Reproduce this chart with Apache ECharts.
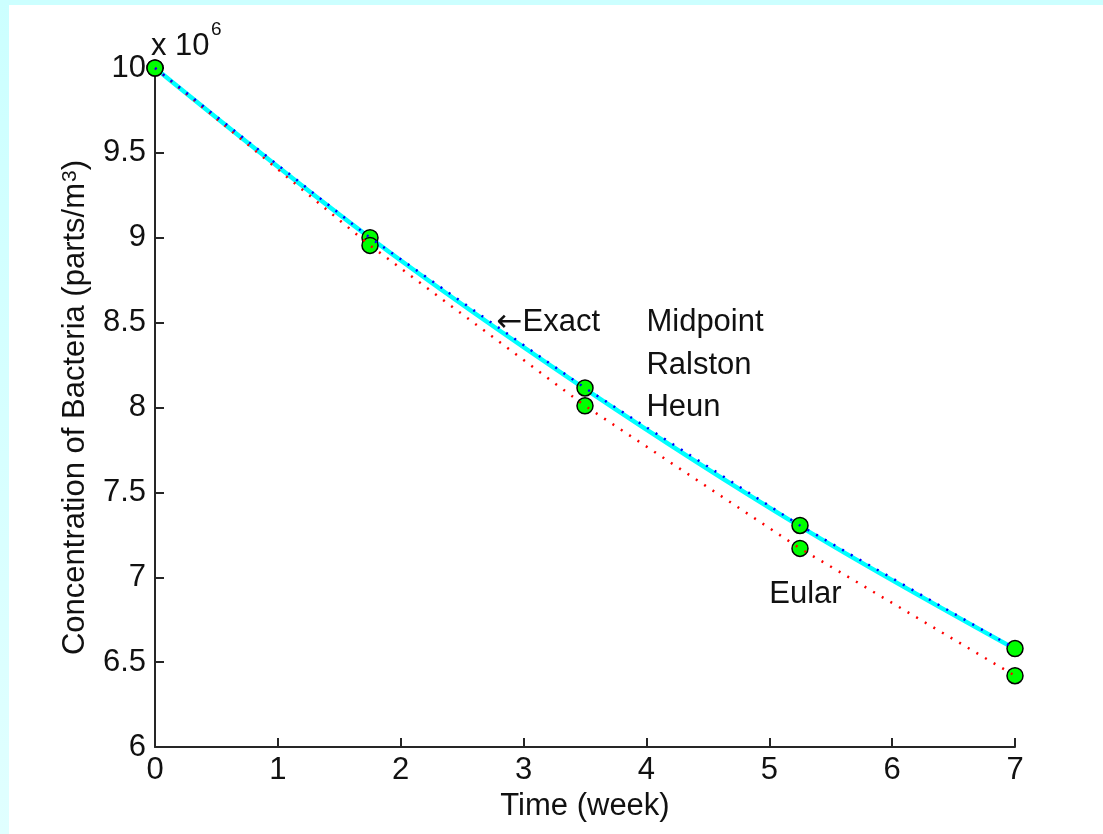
<!DOCTYPE html>
<html>
<head>
<meta charset="utf-8">
<script src="https://cdn.jsdelivr.net/npm/echarts@6/dist/echarts.min.js"></script>
<style>
  html, body { margin: 0; padding: 0; background: #ffffff; }
  #chart { width: 1103px; height: 834px; }
</style>
</head>
<body>
<div id="chart"></div>
<script>
// Time (week)
const timeWeeks = [0, 1.75, 3.5, 5.25, 7];
// Concentration (x 10^6 parts/m^3)
const exactValues = [10, 9.0, 8.11, 7.30, 6.578];
const rk2Values = [10, 9.0, 8.115, 7.305, 6.58];   // Midpoint / Ralston / Heun
const eulerValues = [10, 8.955, 8.01, 7.17, 6.42];
// Axis ticks
const xTicks = [0, 1, 2, 3, 4, 5, 6, 7];
const yTickLabels = ['6', '6.5', '7', '7.5', '8', '8.5', '9', '9.5', '10'];
// Annotations (text, x, y)
const annotTexts = ['{arr|\u2190}Exact', 'Midpoint', 'Ralston', 'Heun', 'Eular'];
const annotX = [2.78, 4.0, 4.0, 4.0, 5.0];
const annotY = [8.5, 8.5, 8.25, 8.0, 6.9];

const FONT = 'Liberation Sans, Arial, sans-serif';
const TXT = '#111111';
const FS = 31;

const pairs = (xs, ys) => xs.map((x, i) => [x, ys[i]]);

const chart = echarts.init(document.getElementById('chart'), null, { renderer: 'canvas' });
chart.setOption({
  animation: false,
  backgroundColor: '#ffffff',
  grid: { left: 155, right: 88, top: 68, bottom: 87, containLabel: false },
  xAxis: {
    type: 'value', min: 0, max: 7, interval: 1,
    name: 'Time (week)', nameLocation: 'middle', nameGap: 41,
    nameTextStyle: { fontFamily: FONT, fontSize: FS, color: TXT },
    axisLine: { show: true, onZero: false, lineStyle: { color: '#262626', width: 2 } },
    axisTick: { show: true, inside: true, length: 9, lineStyle: { color: '#262626', width: 2 } },
    axisLabel: { fontFamily: FONT, fontSize: FS, color: TXT, margin: 8,
      formatter: v => (xTicks.indexOf(v) >= 0 ? String(v) : '') },
    splitLine: { show: false }
  },
  yAxis: {
    type: 'value', min: 6, max: 10, interval: 0.5,
    name: 'Concentration of Bacteria (parts/m{s|3})', nameLocation: 'middle', nameGap: 64,
    nameRotate: 90,
    nameTextStyle: { fontFamily: FONT, fontSize: FS, color: TXT,
      rich: { s: { fontFamily: FONT, fontSize: 21, color: TXT, verticalAlign: 'top', lineHeight: 18, padding: [0, 0, 0, 1] } } },
    axisLine: { show: true, onZero: false, lineStyle: { color: '#262626', width: 2 } },
    axisTick: { show: true, inside: true, length: 9, lineStyle: { color: '#262626', width: 2 } },
    axisLabel: { fontFamily: FONT, fontSize: FS, color: TXT, margin: 9,
      formatter: v => { const i = Math.round((v - 6) / 0.5); return yTickLabels[i] !== undefined ? yTickLabels[i] : ''; } },
    splitLine: { show: false }
  },
  graphic: [
    { type: 'rect', left: 0, top: 0, shape: { width: 1103, height: 5 }, style: { fill: '#ccffff' }, silent: true, z: 100 },
    { type: 'rect', left: 0, top: 0, shape: { width: 9, height: 834 },
      style: { fill: new echarts.graphic.LinearGradient(0, 0, 0, 1, [{ offset: 0, color: '#ccffff' }, { offset: 1, color: '#e0ffff' }]) }, silent: true, z: 100 },
    { type: 'text', left: 151, top: 31, style: { text: 'x 10', font: FS + 'px ' + FONT, fill: TXT }, z: 100 },
    { type: 'text', left: 211, top: 20, style: { text: '6', font: '19px ' + FONT, fill: TXT }, z: 100 }
  ],
  series: [
    { name: 'Exact', type: 'line', data: pairs(timeWeeks, exactValues), smooth: 0.35,
      showSymbol: false, lineStyle: { color: '#00ffff', width: 4.5 }, z: 1 },
    { name: 'Heun pts', type: 'scatter', data: pairs(timeWeeks, rk2Values), symbol: 'circle', symbolSize: 16,
      itemStyle: { color: '#00ff00', borderColor: '#000', borderWidth: 1.5, opacity: 1 }, z: 2 },
    { name: 'Euler pts', type: 'scatter', data: pairs(timeWeeks, eulerValues), symbol: 'circle', symbolSize: 16,
      itemStyle: { color: '#00ff00', borderColor: '#000', borderWidth: 1.5, opacity: 1 }, z: 2 },
    { name: 'Euler', type: 'line', data: pairs(timeWeeks, eulerValues), showSymbol: false,
      lineStyle: { color: '#ff0000', width: 2.5, type: [2, 8] }, z: 3 },
    { name: 'Midpoint/Ralston/Heun', type: 'line', data: pairs(timeWeeks, rk2Values), showSymbol: false,
      lineStyle: { color: '#0000ff', width: 2.5, type: [2, 8] }, z: 4 },
    { name: 'labels', type: 'scatter', symbolSize: 0, silent: true, z: 5,
      itemStyle: { opacity: 1 },
      data: annotTexts.map((t, i) => ({ value: [annotX[i], annotY[i]],
        label: { show: true, position: 'right', distance: 0, formatter: t,
          fontFamily: FONT, fontSize: FS, color: TXT, opacity: 1,
          rich: { arr: { fontFamily: 'DejaVu Sans', fontSize: FS, color: TXT } } } })) }
  ]
});
</script>
</body>
</html>
